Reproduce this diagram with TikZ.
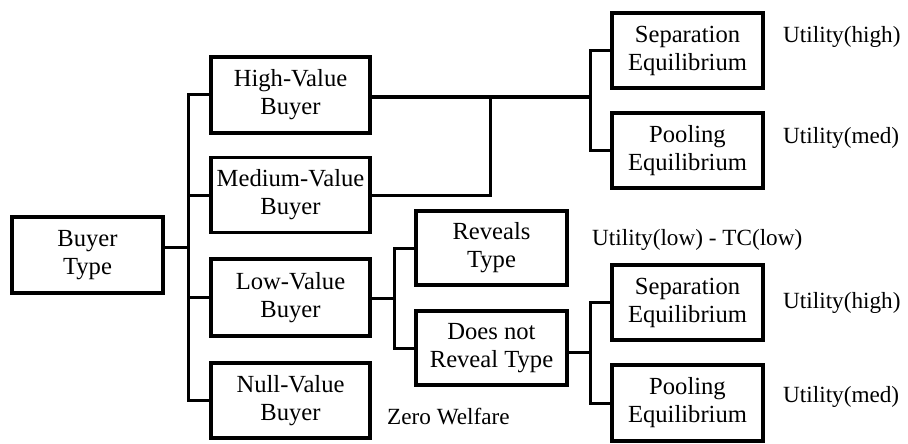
\documentclass[tikz,border=0pt]{standalone}
\usepackage{fontspec}
\setmainfont{Liberation Serif}
\begin{document}
\begin{tikzpicture}[x=1pt,y=-1pt,
  box/.style={draw=black,line width=3.4pt,inner sep=0pt,align=center,
    minimum width=151pt,minimum height=75pt,
    font=\fontsize{24.6}{28}\selectfont},
  wbox/.style={box,minimum width=159pt},
  lbl/.style={anchor=west,inner sep=0pt,font=\fontsize{23.2}{27}\selectfont},
  conn/.style={line width=3pt,line cap=rect}]
\useasboundingbox (0,0) rectangle (908,444);
\node[box,minimum height=76pt] (bt) at (87.5,255) {Buyer\\Type};
\node[wbox,minimum height=76pt] (hv) at (290.5,95) {High-Value\\Buyer};
\node[wbox] (mv) at (290.5,195) {Medium-Value\\Buyer};
\node[wbox,minimum height=77pt] (lv) at (290.5,297.5) {Low-Value\\Buyer};
\node[wbox] (nv) at (290.5,400.5) {Null-Value\\Buyer};
\node[box] (se1) at (687.5,50.5) {Separation\\Equilibrium};
\node[box] (pe1) at (687.5,150.5) {Pooling\\Equilibrium};
\node[box,minimum height=74pt] (rt) at (491.5,248) {Reveals\\Type};
\node[box,minimum height=74pt] (dn) at (491.5,348) {Does not\\Reveal Type};
\node[box] (se2) at (687.5,302.5) {Separation\\Equilibrium};
\node[box,minimum height=76pt] (pe2) at (687.5,403) {Pooling\\Equilibrium};
\node[lbl] (u1) at (783,37) {Utility(high)};
\node[lbl] (u2) at (783,138) {Utility(med)};
\node[lbl] (u3) at (592,240) {Utility(low) - TC(low)};
\node[lbl] (u4) at (783,303) {Utility(high)};
\node[lbl] (u5) at (783,397) {Utility(med)};
\node[lbl] (zw) at (387,417) {Zero Welfare};
\coordinate (tk) at (188,247);
\coordinate (ja) at (590,97);
\coordinate (jb) at (490,97);
\coordinate (jc) at (394,298);
\coordinate (jd) at (590,352);
\begin{scope}[conn]
\draw (bt.east |- tk) -- (tk);
\draw (hv.west) -| (tk) |- (nv.west);
\draw (mv.west) -- (mv.west -| tk);
\draw (lv.west) -- (lv.west -| tk);
\draw (hv.east |- ja) -- (ja);
\draw (mv.east) -| (jb);
\draw (se1.west) -| (ja) |- (pe1.west);
\draw (lv.east |- jc) -- (jc);
\draw (rt.west) -| (jc) |- (dn.west);
\draw (dn.east |- jd) -- (jd);
\draw (se2.west) -| (jd) |- (pe2.west);
\end{scope}
\end{tikzpicture}
\end{document}
